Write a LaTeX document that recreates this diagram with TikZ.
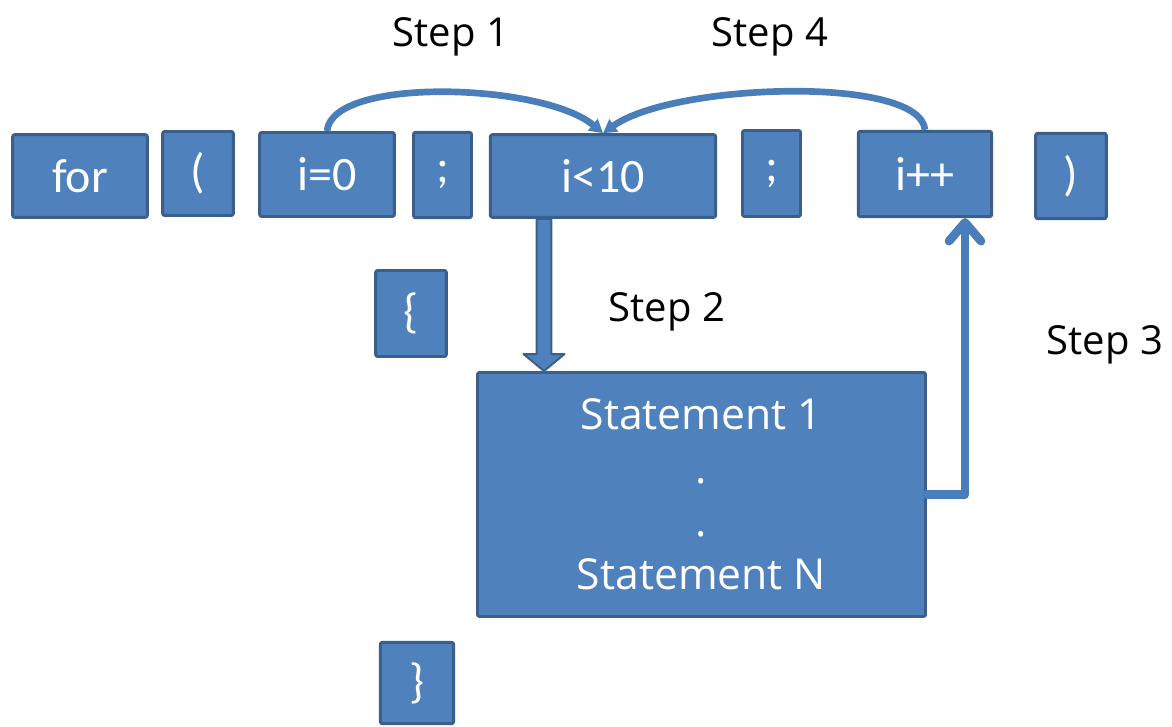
\documentclass[tikz,border=0pt]{standalone}
\usepackage{fontspec}
\setmainfont{Open Sans}
\newfontfamily\codefont{Carlito}
\usepackage{tikz}
\usetikzlibrary{arrows.meta}
\usetikzlibrary{calc}
\definecolor{boxfill}{HTML}{4F81BD}
\definecolor{boxline}{HTML}{3A5F8C}
\definecolor{linkblue}{HTML}{4A7EBB}

\begin{document}
\begin{tikzpicture}[
            x = 0.75pt, y = -0.75pt, % pixel grid, y runs downwards
            > = {Triangle[length=10pt,width=11pt]}, % arrow head style
            line join = round
        ]

        \tikzstyle{token}=[
            draw = boxline,
            fill = boxfill,
            line width = 2.2pt,
            rounded corners = 1.5pt,
            text = white,
            inner sep = 0pt,
            font = \codefont\fontsize{36}{40}\selectfont
        ]
        \tikzstyle{steplabel}=[anchor = base, font = \fontsize{30}{36}\selectfont]
        \tikzstyle{link}=[draw = linkblue, line width = 5pt]

        \useasboundingbox (0,0) rectangle (1172,727);

	% loop header
        \node[token, minimum width=101pt, minimum height=62pt] (FOR) at (80,176) {for};
        \node[token, minimum width=53pt, minimum height=63pt] (LP) at (198,173.5) {(};
        \node[token, minimum width=101pt, minimum height=63pt] (INIT) at (327,174.5) {i=0};
        \node[token, minimum width=43.5pt, minimum height=64pt] (SEMA) at (442.5,175) {;};
        \node[token, minimum width=169pt, minimum height=62pt] (COND) at (603,176) {i<10};
        \node[token, minimum width=43.5pt, minimum height=64.5pt] (SEMB) at (771.5,173.5) {;};
        \node[token, minimum width=100pt, minimum height=64pt] (INC) at (925,174) {i++};
        \node[token, minimum width=53pt, minimum height=64pt] (RP) at (1071,176) {)};

        % loop body
        \node[token, minimum width=53pt, minimum height=64.5pt] (LB) at (411,313.5) {\{};
        \node[token, minimum width=55pt, minimum height=61pt] (RB) at (417,683) {\}};
        \node[token, minimum width=336pt, minimum height=183pt, align=center,
              font=\fontsize{32}{40}\selectfont] (BODY) at (701.5,494.5)
              {Statement 1\\.\\.\\Statement N};

        % step 1 and step 4
        \path[link,->] (INIT.north) .. controls +(5,-55) and +(-60,-50) .. (COND.north);
        \path[link,->] (INC.north) .. controls +(-5,-55) and +(70,-50) .. (COND.north);

        % step 2
        \coordinate (ARR) at ([xshift=-44.25pt]COND.south);
        \coordinate (ARRend) at (ARR |- BODY.north);
        \draw[draw=boxline, fill=boxfill, line width=1.5pt]
            ([xshift=-5.6pt]ARR) -- ([xshift=-5.6pt,yshift=12.75pt]ARRend)
            -- ([xshift=-15.4pt,yshift=12.75pt]ARRend) -- (ARRend)
            -- ([xshift=15.4pt,yshift=12.75pt]ARRend) -- ([xshift=5.6pt,yshift=12.75pt]ARRend)
            -- ([xshift=5.6pt]ARR) -- cycle;

        % step 3
        \draw[link, line width=6.5pt, line cap=round,
              -{Straight Barb[length=14pt,width=24pt,round]}]
            (BODY.east) -| ([xshift=30pt]INC.south);

        % labels
        \node[steplabel] (STEP1) at (451,47) {Step 1};
        \node[steplabel] (STEP4) at (770,47) {Step 4};
        \node[steplabel] (STEP2) at (667,322) {Step 2};
        \node[steplabel] (STEP3) at (1105,355) {Step 3};

  \end{tikzpicture}
\end{document}
